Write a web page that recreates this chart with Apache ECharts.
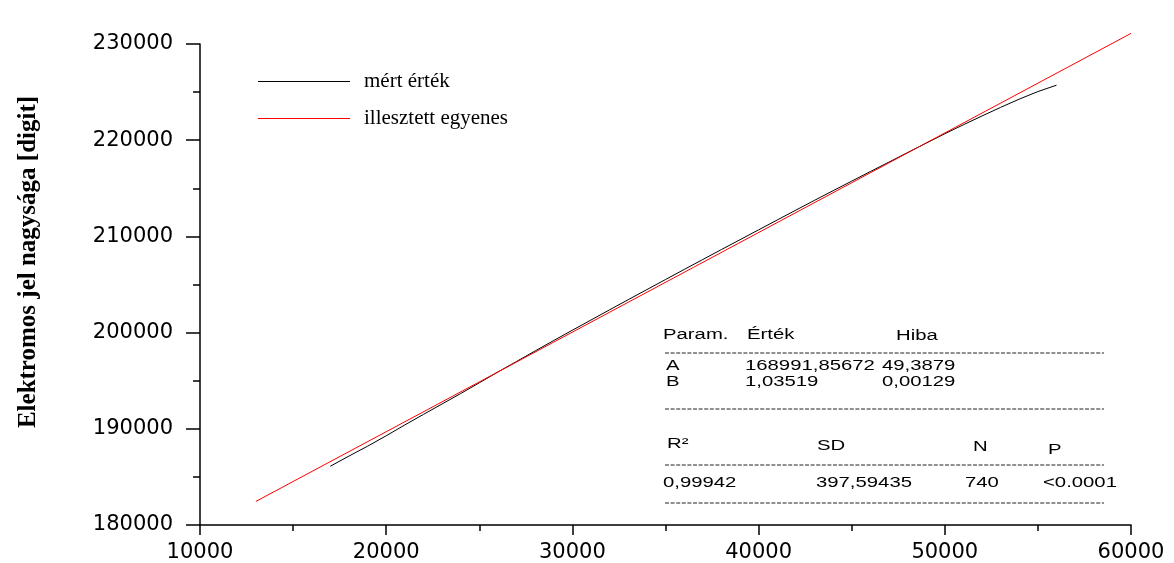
<!DOCTYPE html>
<html>
<head>
<meta charset="utf-8">
<script src="https://cdn.jsdelivr.net/npm/echarts@6/dist/echarts.min.js"></script>
<style>
  html, body { margin: 0; padding: 0; background: #fff; }
  #chart { width: 1174px; height: 563px; }
</style>
</head>
<body>
<div id="chart"></div>
<script>
// Measured signal vs. input
const measuredX = [17000, 18000, 19000, 20000, 21000, 22000, 23000, 24000, 25000, 26000,
                   27000, 28000, 29000, 30000, 31000, 32000, 33000, 34000, 35000, 36000,
                   37000, 38000, 39000, 40000, 41000, 42000, 43000, 44000, 45000, 46000,
                   47000, 48000, 49000, 50000, 51000, 52000, 53000, 54000, 55000, 56000];
const measuredY = [186110, 187165, 188190, 189275, 190400, 191495, 192580, 193665, 194780, 195905,
                   197000, 198095, 199180, 200250, 201310, 202370, 203425, 204470, 205515, 206560,
                   207595, 208630, 209655, 210680, 211705, 212730, 213745, 214750, 215745, 216740,
                   217725, 218710, 219695, 220670, 221605, 222520, 223415, 224270, 225055, 225720];

// Fit results table
const paramNames = ['A', 'B'];
const paramValues = ['168991,85672', '1,03519'];
const paramErrors = ['49,3879', '0,00129'];
const statHeaders = ['R\u00B2', 'SD', 'N', 'P'];
const statValues = ['0,99942', '397,59435', '740', '<0.0001'];

// x range of the fitted straight line
const fitX = [13000, 60000];

const xTicks = [10000, 20000, 30000, 40000, 50000, 60000];
const yTicks = [180000, 190000, 200000, 210000, 220000, 230000];

const seriesNames = ['mért érték', 'illesztett egyenes'];
const yTitle = 'Elektromos jel nagysága [digit]';

const toNum = s => parseFloat(s.replace(',', '.'));
const fitA = toNum(paramValues[0]);
const fitB = toNum(paramValues[1]);

const measuredData = measuredX.map((x, i) => [x, measuredY[i]]);
const fitData = fitX.map(x => [x, fitA + fitB * x]);

const chart = echarts.init(document.getElementById('chart'), null, { renderer: 'canvas' });

const TS = 1.45; // horizontal stretch of table text
const tFont = '14px "Liberation Sans", Arial, sans-serif';
function tText(str, x, y) {
  return {
    type: 'text', x: x, y: y, scaleX: TS, originX: 0, originY: 0,
    style: { text: str, font: tFont, fill: '#000', align: 'left', verticalAlign: 'middle',
             textAlign: 'left', textVerticalAlign: 'middle' }
  };
}
function dashLine(y) {
  return {
    type: 'line',
    shape: { x1: 665, y1: y, x2: 1104, y2: y },
    style: { stroke: '#222', lineWidth: 1, lineDash: [4, 1.6] }
  };
}

const tableEls = [
  tText('Param.', 663, 335),
  tText('Érték', 747, 335),
  tText('Hiba', 896, 336),
  dashLine(353),
  dashLine(409),
  dashLine(465),
  dashLine(503)
];
const rowY = [366, 382];
paramNames.forEach((n, i) => {
  tableEls.push(tText(n, 666, rowY[i]));
  tableEls.push(tText(paramValues[i], 745, rowY[i]));
  tableEls.push(tText(paramErrors[i], 882, rowY[i]));
});
const statX = [667, 817, 973, 1048];
const statHY = [444, 446, 447, 450];
const statVX = [663, 816, 965, 1043];
statHeaders.forEach((h, i) => {
  tableEls.push(tText(h, statX[i], statHY[i]));
  tableEls.push(tText(statValues[i], statVX[i], 483));
});

const axisCommon = {
  type: 'value',
  interval: 10000,
  splitLine: { show: false },
  axisLine: { show: true, onZero: false, lineStyle: { color: '#000', width: 1.5 } },
  minorTick: { show: true, splitNumber: 2, lineStyle: { color: '#000', width: 1.5 } },
  axisLabel: {
    color: '#000', fontFamily: '"DejaVu Sans", sans-serif', fontSize: 21,
    formatter: v => String(v)
  }
};

chart.setOption({
  animation: false,
  backgroundColor: '#fff',
  grid: { left: 200, right: 43, top: 44, bottom: 35, containLabel: false },
  xAxis: Object.assign({}, axisCommon, {
    min: xTicks[0], max: xTicks[xTicks.length - 1],
    axisTick: { show: true, length: 10, lineStyle: { color: '#000', width: 1.5 } },
    minorTick: Object.assign({}, axisCommon.minorTick, { length: 6 }),
    axisLabel: Object.assign({}, axisCommon.axisLabel, { margin: 17 })
  }),
  yAxis: Object.assign({}, axisCommon, {
    min: yTicks[0], max: yTicks[yTicks.length - 1],
    axisTick: { show: true, length: 14, lineStyle: { color: '#000', width: 1.5 } },
    minorTick: Object.assign({}, axisCommon.minorTick, { length: 7 }),
    axisLabel: Object.assign({}, axisCommon.axisLabel, { margin: 27 })
  }),
  legend: {
    data: seriesNames,
    orient: 'vertical',
    left: 258, top: 71,
    padding: 0,
    icon: 'rect',
    itemWidth: 92, itemHeight: 1.2, itemGap: 16,
    textStyle: {
      fontFamily: '"Liberation Serif", "Times New Roman", serif',
      fontSize: 21, color: '#000', lineHeight: 20, padding: [0, 0, 0, 9]
    }
  },
  series: [
    {
      name: seriesNames[0], type: 'line', data: measuredData,
      symbol: 'none', showSymbol: false,
      lineStyle: { color: '#000', width: 1 }, itemStyle: { color: '#000' },
      z: 2
    },
    {
      name: seriesNames[1], type: 'line', data: fitData,
      symbol: 'none', showSymbol: false, clip: false,
      lineStyle: { color: '#ff0000', width: 1 }, itemStyle: { color: '#ff0000' },
      z: 3
    }
  ],
  graphic: [
    {
      type: 'text', x: 29, y: 262, rotation: Math.PI / 2,
      style: {
        text: yTitle,
        font: 'bold 25px "Liberation Serif", "Times New Roman", serif',
        fill: '#000', align: 'center', verticalAlign: 'middle',
        textAlign: 'center', textVerticalAlign: 'middle'
      }
    }
  ].concat(tableEls)
});
</script>
</body>
</html>
